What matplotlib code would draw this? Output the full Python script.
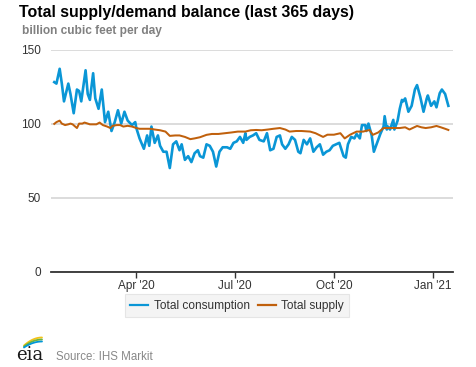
import matplotlib
matplotlib.use("Agg")
import matplotlib.pyplot as plt
import numpy as np
import pandas as pd

plt.rcParams['font.family'] = ['Liberation Sans', 'DejaVu Sans']

start = "2020-01-16"
cons_days = [0, 2, 5, 7, 9, 13, 15, 18, 21, 23, 25, 29, 31, 33, 36, 38, 41, 44, 47, 50,
             53, 56, 59, 62, 65, 68, 72, 75, 76, 79, 83, 86, 88, 90, 93, 96, 98, 101, 104, 107,
             110, 113, 116, 118, 121, 124, 127, 130, 133, 135, 138, 141, 144, 147, 150, 153, 156, 160, 163, 166,
             169, 172, 175, 177, 178, 181, 184, 187, 190, 194, 197, 200, 203, 206, 209, 211, 214, 217, 220, 223,
             226, 228, 231, 234, 237, 240, 243, 246, 249, 252, 255, 258, 261, 264, 268, 270, 272, 275, 278, 280,
             283, 285, 288, 289, 291, 294, 296, 298, 302, 305, 306, 308, 309, 311, 314, 315, 318, 320, 322, 323,
             325, 328, 331, 334, 336, 339, 342, 345, 346, 349, 352, 354, 357, 359, 362, 365]
cons_vals = [128, 127, 137, 127, 115, 127, 120, 107, 123, 122, 115, 136, 120, 116, 134, 117, 110, 123, 101, 108,
             95, 101, 109, 100, 108, 102, 99, 101, 97, 90, 83, 92, 85, 98, 87, 92, 85, 81, 81, 70,
             86, 88, 82, 86, 75.5, 78, 74, 80, 82, 78, 77, 86, 85, 81, 71, 81, 84, 84, 83, 87,
             88, 91, 87, 93.5, 89, 91, 92, 93.5, 89, 88, 93.5, 82, 83, 91, 92, 86, 83, 86, 91, 89,
             81, 80, 89, 86, 90, 81, 84, 86, 79, 81, 82, 85, 86, 87, 78, 77, 86, 91, 90, 93,
             90, 99, 99, 95, 100, 92, 81, 85, 93, 98, 105, 96, 98, 96, 102.5, 96, 102, 110, 116, 115,
             117, 108, 112, 123, 126, 118, 108, 117, 119, 112, 115, 111, 120.5, 123, 120, 112]

sup_days = [0, 2, 5, 7, 10, 13, 15, 17, 21, 23, 26, 28, 31, 33, 36, 39, 42, 45, 49, 52,
            54, 58, 61, 64, 68, 72, 76, 79, 84, 89, 93, 98, 103, 107, 112, 116, 121, 126, 130, 135,
            141, 146, 152, 158, 164, 170, 177, 182, 187, 192, 198, 203, 209, 214, 218, 224, 229, 237, 242, 249,
            253, 259, 265, 269, 274, 280, 286, 292, 295, 300, 305, 309, 314, 320, 325, 329, 336, 340, 344, 349,
            354, 358, 362, 365]
sup_vals = [99.8, 101, 102, 100, 99, 99.5, 100, 99.5, 97, 100, 100, 100.7, 100, 99.5, 99.5, 99.5, 100.7, 99, 98, 97,
            98.5, 99, 99, 98, 98.5, 98, 97, 96.5, 96.5, 96.5, 96, 95.5, 94.6, 91.7, 92, 92, 91, 89.5, 90, 90.8,
            92.4, 93, 93, 93.5, 94, 94.6, 94.6, 95.5, 95.7, 95.5, 96, 96.5, 97, 96, 94.6, 95, 95, 94.6, 93.5, 91,
            92.5, 92.5, 93.5, 90, 92.5, 94.6, 94.6, 95.7, 92.4, 94, 97, 97, 97, 97, 97.5, 96, 98.4, 97.5, 97, 97.5,
            98.4, 97.5, 96.5, 95.7]

yticks = [0, 50, 100, 150]
xtick_dates = ["2020-04-01", "2020-07-01", "2020-10-01", "2021-01-01"]
xtick_labels = ["Apr '20", "Jul '20", "Oct '20", "Jan '21"]

t0 = pd.Timestamp(start)
cons_x = [t0 + pd.Timedelta(days=d) for d in cons_days]
sup_x = [t0 + pd.Timedelta(days=d) for d in sup_days]

W, H = 477, 367
fig = plt.figure(figsize=(W / 100, H / 100), dpi=100)
ax = fig.add_axes([0.1063, 0.2597, 0.8427, 0.6053])

blue = '#0a96d6'
orange = '#c0600c'
ax.plot(cons_x, cons_vals, color=blue, lw=1.9, label='Total consumption', zorder=3)
ax.plot(sup_x, sup_vals, color=orange, lw=1.45, label='Total supply', zorder=4)

ax.set_ylim(0, 150)
ax.set_xlim(t0 - pd.Timedelta(days=3.3), t0 + pd.Timedelta(days=369))
ax.set_yticks(yticks)
ax.set_yticklabels([str(v) for v in yticks])
ax.grid(axis='y', color='#d6d6d6', lw=1.2)
ax.set_axisbelow(True)
for s in ['top', 'right', 'left']:
    ax.spines[s].set_visible(False)
ax.spines['bottom'].set_color('#333333')
ax.spines['bottom'].set_linewidth(1.3)
ax.set_xticks([pd.Timestamp(d) for d in xtick_dates])
ax.set_xticklabels(xtick_labels)
ax.tick_params(axis='x', length=4, width=1, color='#333333', labelsize=8.5, labelcolor='#333333', pad=2)
ax.tick_params(axis='y', length=0, labelsize=8.5, labelcolor='#333333', pad=7)

h, l = ax.get_legend_handles_labels()
leg = fig.legend(h, l, loc='upper center', bbox_to_anchor=(0.497, 0.198), ncol=2, frameon=True,
                 fontsize=8.6, handlelength=1.5, handletextpad=0.45, columnspacing=0.7,
                 borderpad=0.45, borderaxespad=0, fancybox=False)
leg.get_frame().set_facecolor('#f2f2f2')
leg.get_frame().set_edgecolor('#e0e0e0')
leg.get_frame().set_linewidth(0.8)
for t in leg.get_texts():
    t.set_color('#333333')
for hl in leg.get_lines():
    hl.set_linewidth(1.6)

fig.text(0.040, 0.965, "Total supply/demand balance (last 365 days)", fontsize=11.4,
         fontweight='bold', color='#000000', va='center', ha='left')
fig.text(0.046, 0.915, "billion cubic feet per day", fontsize=8.6, fontweight='bold',
         color='#808080', va='center', ha='left')

# EIA logo (pixel-coordinate overlay)
lax = fig.add_axes([0, 0, 1, 1])
lax.set_xlim(0, W); lax.set_ylim(H, 0); lax.axis('off')
lax.patch.set_alpha(0)
tt = np.linspace(0, 1, 30)
for c, y0, y1 in [('#f2c318', 345.5, 337.5), ('#6db33f', 346.5, 339.5), ('#0096d7', 347.5, 341.5)]:
    xs = 24 + 18 * tt
    ys = y0 + (y1 - y0) * (1 - (1 - tt) ** 2)
    lax.plot(xs, ys, color=c, lw=1.3, solid_capstyle='round')
lax.text(16.5, 360, "eia", fontsize=13, family='DejaVu Serif', color='#1a1a1a',
         va='baseline', ha='left')
fig.text(0.117, 0.028, "Source: IHS Markit", fontsize=8.3, color='#888888', va='center', ha='left')

fig.savefig("out.png", dpi=100)
